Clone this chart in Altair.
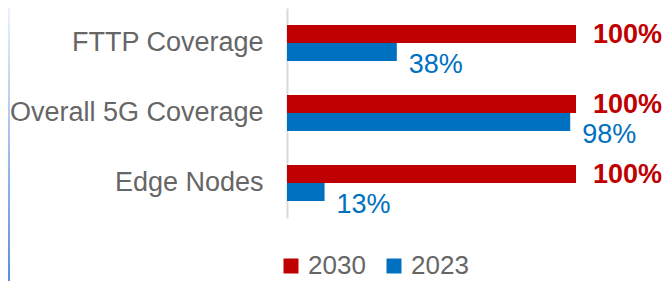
import altair as alt
import pandas as pd

categories = ["FTTP Coverage", "Overall 5G Coverage", "Edge Nodes"]
series = ["2030", "2023"]
values_2030 = [100, 100, 100]
values_2023 = [38, 98, 13]
colors = ["#C00000", "#0070C0"]

rows = []
for c, v30, v23 in zip(categories, values_2030, values_2023):
    rows.append({"category": c, "series": "2030", "value": v30, "label": f"{v30}%"})
    rows.append({"category": c, "series": "2023", "value": v23, "label": f"{v23}%"})
df = pd.DataFrame(rows)

FONT = "Liberation Sans"
GRAY = "#666666"

y_enc = alt.Y("category:N", sort=categories,
              scale=alt.Scale(paddingInner=0.486, paddingOuter=0.243),
              axis=alt.Axis(title=None, ticks=False, labelFontSize=27, labelColor=GRAY,
                            labelFont=FONT, labelPadding=24, domainColor="#D9D9D9",
                            domainWidth=2, grid=False, labelLimit=400))
yoff = alt.YOffset("series:N", sort=series, scale=alt.Scale(paddingInner=0, paddingOuter=0))
x_enc = alt.X("value:Q", scale=alt.Scale(domain=[0, 100], nice=False, zero=True), axis=None)

base = alt.Chart(df)

bars = base.mark_bar(cornerRadius=0).encode(
    y=y_enc, yOffset=yoff, x=x_enc,
    color=alt.Color("series:N", sort=series,
                    scale=alt.Scale(domain=series, range=colors),
                    legend=alt.Legend(title=None, orient="none", direction="horizontal",
                                      legendX=-9, legendY=245, symbolType="square",
                                      symbolSize=225, symbolStrokeWidth=0, labelFontSize=26,
                                      labelColor=GRAY, labelFont=FONT, symbolOffset=0,
                                      labelOffset=4, columnPadding=15, padding=0)),
)

red_text = base.transform_filter(alt.datum.series == "2030").mark_text(
    align="left", baseline="middle", dx=17, dy=1, fontSize=27, fontWeight="bold",
    color="#C00000", font=FONT
).encode(y=y_enc, yOffset=yoff, x=x_enc, text="label:N")

blue_text = base.transform_filter(alt.datum.series == "2023").mark_text(
    align="left", baseline="middle", dx=12, dy=13, fontSize=27,
    color="#0070C0", font=FONT
).encode(y=y_enc, yOffset=yoff, x=x_enc, text="label:N")

edge = alt.Chart(pd.DataFrame({"k": [0]})).mark_rect(
    color=alt.Gradient(gradient="linear", x1=0, y1=0, x2=0, y2=1,
                       stops=[alt.GradientStop(color="#EAF1FB", offset=0),
                              alt.GradientStop(color="#5B8FD9", offset=1)])
).encode(x=alt.value(-279), x2=alt.value(-277), y=alt.value(0), y2=alt.value(273))

chart = alt.layer(edge, bars, red_text, blue_text).properties(
    width=289, height=210,
    autosize=alt.AutoSizeParams(type="none"),
    padding={"left": 279, "top": 0, "right": 88, "bottom": 63},
    background="white",
).configure_view(stroke=None)

chart.save("out.html", embed_options={"renderer": "svg", "actions": False})
